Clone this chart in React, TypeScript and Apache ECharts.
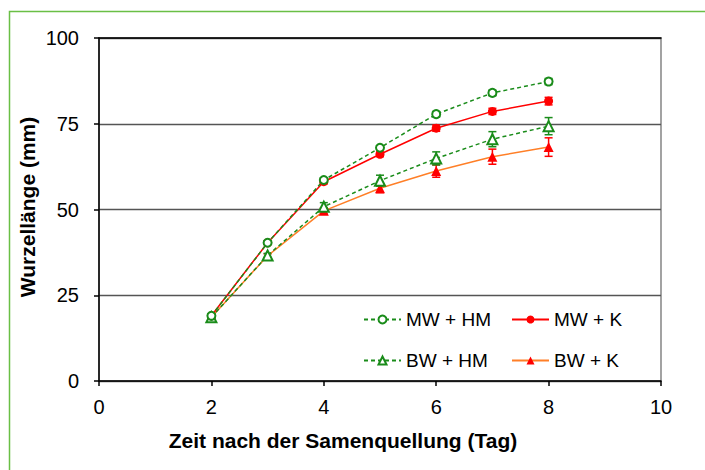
import React, { useEffect, useRef } from "react";
import * as echarts from "echarts";

const days = [2, 3, 4, 5, 6, 7, 8];
const mwHM = [19.0, 40.3, 58.6, 68.0, 77.8, 84.0, 87.3];
const mwK = [19.0, 40.3, 58.1, 66.1, 73.7, 78.6, 81.6];
const bwHM = [18.6, 36.6, 50.8, 58.4, 64.9, 70.5, 74.3];
const bwK = [18.6, 36.5, 49.6, 56.2, 61.2, 65.4, 68.2];
const mwHMErr = [0.3, 0.4, 0.5, 0.6, 0.8, 0.8, 0.9];
const mwKErr = [0.4, 0.5, 0.6, 0.7, 0.9, 0.9, 1.1];
const bwHMErr = [0.4, 0.6, 1.2, 1.6, 1.9, 2.2, 2.5];
const bwKErr = [0.4, 0.6, 0.9, 1.3, 1.8, 2.2, 2.7];
const xTicks = [0, 2, 4, 6, 8, 10];
const yTicks = [0, 25, 50, 75, 100];
const seriesNames = ["MW + HM", "MW + K", "BW + HM", "BW + K"];
const xTitle = "Zeit nach der Samenquellung (Tag)";
const yTitle = "Wurzellänge (mm)";

const GREEN = "#1a8c1a";
const RED = "#ff0000";
const ORANGE = "#ff7f27";
const FONT = "'Liberation Sans', Arial, sans-serif";

function errSeries(name: string, vals: number[], errs: number[], color: string) {
  return {
    type: "custom",
    name,
    z: 3,
    data: days.map((d, i) => [d, vals[i] - errs[i], vals[i] + errs[i]]),
    renderItem: (params: any, api: any) => {
      const x = api.value(0);
      const lo = api.coord([x, api.value(1)]);
      const hi = api.coord([x, api.value(2)]);
      const w = 4;
      const st = { stroke: color, lineWidth: 1.5 };
      return {
        type: "group",
        children: [
          { type: "line", shape: { x1: lo[0], y1: lo[1], x2: hi[0], y2: hi[1] }, style: st },
          { type: "line", shape: { x1: lo[0] - w, y1: lo[1], x2: lo[0] + w, y2: lo[1] }, style: st },
          { type: "line", shape: { x1: hi[0] - w, y1: hi[1], x2: hi[0] + w, y2: hi[1] }, style: st },
        ],
      };
    },
    silent: true,
  };
}

export default function App() {
  const ref = useRef<HTMLDivElement>(null);
  useEffect(() => {
    document.body.style.margin = "0";
    const chart = echarts.init(ref.current!, null, { renderer: "svg" });
    const pts = (vals: number[]) => days.map((d, i) => [d, vals[i]]);
    const legendBase = {
      orient: "vertical",
      top: 310,
      padding: 0,
      itemWidth: 37,
      itemHeight: 10,
      itemGap: 22,
      selectedMode: false,
      textStyle: { fontSize: 19, color: "#000", fontFamily: FONT, lineHeight: 18 },
    };
    chart.setOption({
      animation: false,
      textStyle: { fontFamily: FONT },
      grid: { left: 99, top: 38, right: 44, bottom: 89, show: true, borderColor: "#666", borderWidth: 1.2 },
      graphic: [
        {
          type: "rect",
          shape: { x: 9.5, y: 11.5, width: 900, height: 700 },
          style: { fill: "none", stroke: "#6abf45", lineWidth: 1.5 },
          silent: true,
        },
        {
          type: "text",
          x: 343,
          y: 440,
          style: {
            text: xTitle,
            font: `bold 21px ${FONT}`,
            fill: "#000",
            align: "center",
            verticalAlign: "middle",
          },
          silent: true,
        },
        {
          type: "text",
          x: 27,
          y: 207,
          rotation: Math.PI / 2,
          style: {
            text: yTitle,
            font: `bold 21px ${FONT}`,
            fill: "#000",
            align: "center",
            verticalAlign: "middle",
          },
          silent: true,
        },
      ],
      legend: [
        { ...legendBase, data: [seriesNames[0], seriesNames[2]], left: 363 },
        { ...legendBase, data: [seriesNames[1], seriesNames[3]], left: 511 },
      ],
      xAxis: [
        {
          type: "value",
          min: xTicks[0],
          max: xTicks[xTicks.length - 1],
          interval: 2,
          axisLine: { lineStyle: { color: "#000", width: 1.5 } },
          axisTick: { show: true, inside: false, length: 5, lineStyle: { color: "#000", width: 1.5 } },
          axisLabel: { fontSize: 20, color: "#000", margin: 16, fontFamily: FONT },
          splitLine: { show: false },
        },
        {
          type: "value",
          position: "top",
          min: 0,
          max: 10,
          interval: 2,
          axisLine: { show: true, lineStyle: { color: "#000", width: 1.5 } },
          axisTick: { show: false },
          axisLabel: { show: false },
          splitLine: { show: false },
        },
      ],
      yAxis: {
        type: "value",
        min: yTicks[0],
        max: yTicks[yTicks.length - 1],
        interval: 25,
        axisLine: { show: true, lineStyle: { color: "#000", width: 1.5 } },
        axisTick: { show: true, inside: false, length: 5, lineStyle: { color: "#000", width: 1.5 } },
        axisLabel: { fontSize: 20, color: "#000", margin: 20, fontFamily: FONT },
        splitLine: { show: true, lineStyle: { color: "#555", width: 1.3 } },
      },
      series: [
        errSeries("errBWK", bwK, bwKErr, RED),
        errSeries("errBWHM", bwHM, bwHMErr, GREEN),
        errSeries("errMWK", mwK, mwKErr, RED),
        errSeries("errMWHM", mwHM, mwHMErr, GREEN),
        {
          type: "line",
          name: seriesNames[3],
          data: pts(bwK),
          symbol: "triangle",
          symbolSize: 10,
          itemStyle: { color: RED },
          lineStyle: { color: ORANGE, width: 1.5 },
          z: 4,
        },
        {
          type: "line",
          name: seriesNames[2],
          data: pts(bwHM),
          symbol: "emptyTriangle",
          symbolSize: 10,
          itemStyle: { color: GREEN, borderWidth: 1.5 },
          lineStyle: { color: GREEN, width: 1.5, type: [4, 3] },
          z: 4,
        },
        {
          type: "line",
          name: seriesNames[1],
          data: pts(mwK),
          symbol: "circle",
          symbolSize: 9,
          itemStyle: { color: RED },
          lineStyle: { color: RED, width: 1.5 },
          z: 5,
        },
        {
          type: "line",
          name: seriesNames[0],
          data: pts(mwHM),
          symbol: "emptyCircle",
          symbolSize: 8,
          itemStyle: { color: GREEN, borderWidth: 1.5 },
          lineStyle: { color: GREEN, width: 1.5, type: [4, 3] },
          z: 5,
        },
      ],
    });
    return () => chart.dispose();
  }, []);
  return <div ref={ref} style={{ width: 705, height: 470 }} />;
}
